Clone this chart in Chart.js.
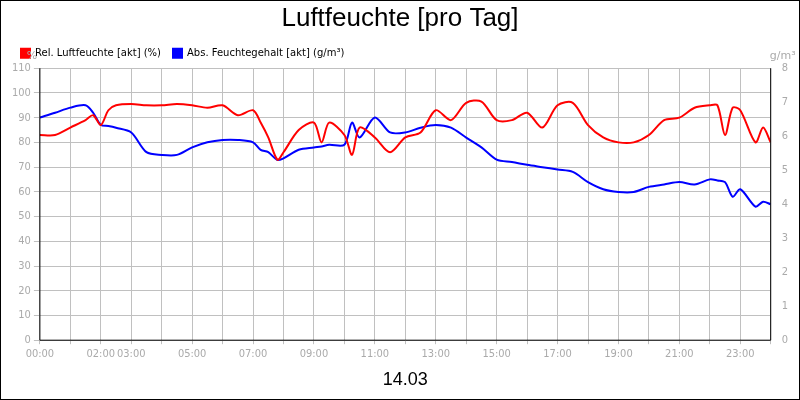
<!DOCTYPE html>
<html lang="de">
<head>
<meta charset="UTF-8">
<title>Luftfeuchte</title>
<style>
  body { margin: 0; background: #fff; }
  #wrap { width: 800px; height: 400px; box-sizing: border-box; border: 1px solid #000; }
</style>
</head>
<body>
<div id="wrap"><canvas id="chart" width="798" height="398"></canvas></div>
<script src="https://cdn.jsdelivr.net/npm/chart.js"></script>
<script>
// time of day in hours
const hours = [0,0.5,1,1.5,1.75,2,2.25,2.5,3,3.5,4,4.5,5,5.5,6,6.5,7,7.25,7.5,7.8,8,8.5,9,9.25,9.5,10,10.25,10.5,11,11.5,12,12.5,13,13.5,14,14.5,15,15.5,16,16.5,17,17.5,18,18.5,19,19.5,20,20.5,21,21.5,22,22.25,22.5,22.75,23,23.5,23.75,24];
// Rel. Luftfeuchte (%)
const rh = [83,83,86,89,91,87,93,95,95.5,95,95,95.5,95,94,95,91,93,88,82,73,76,85,88,80,88,83,75,86,82,76,82,84,93,89,96,96.5,89,89,92,86,95,96,87,82,80,80,83,89,90,94,95,95,83,94,93,80,86,80];
// Abs. Feuchtegehalt (g/m³)
const ah = [6.55,6.69,6.84,6.91,6.69,6.33,6.3,6.25,6.11,5.53,5.45,5.45,5.67,5.82,5.89,5.89,5.82,5.6,5.53,5.3,5.35,5.6,5.67,5.7,5.75,5.75,6.4,5.96,6.55,6.11,6.11,6.25,6.33,6.25,5.96,5.67,5.31,5.24,5.16,5.09,5.02,4.95,4.65,4.44,4.36,4.36,4.51,4.58,4.65,4.58,4.73,4.7,4.65,4.22,4.44,3.93,4.07,4.0];
const xLabels = {0:'00:00',2:'02:00',3:'03:00',5:'05:00',7:'07:00',9:'09:00',11:'11:00',13:'13:00',15:'15:00',17:'17:00',19:'19:00',21:'21:00',23:'23:00'};

const grey = '#aaaaaa';
const unitTitles = {
  id: 'unitTitles',
  afterDraw(chart) {
    const c = chart.ctx, a = chart.chartArea;
    c.save();
    c.fillStyle = grey;
    c.font = '11px "DejaVu Sans", sans-serif';
    c.textAlign = 'center';
    c.fillText('%', a.left - 8, a.top - 12);
    c.fillText('g/m³', a.right + 12, a.top - 12);
    c.strokeStyle = '#000';
    c.lineWidth = 1;
    c.beginPath();
    c.moveTo(a.left, a.top); c.lineTo(a.left, a.bottom); c.lineTo(a.right, a.bottom); c.lineTo(a.right, a.top);
    c.stroke();
    c.restore();
  }
};

new Chart(document.getElementById('chart'), {
  type: 'line',
  data: {
    datasets: [
      { label: 'Rel. Luftfeuchte [akt] (%)', data: hours.map((h, i) => ({ x: h, y: rh[i] })),
        borderColor: '#ff0000', backgroundColor: '#ff0000', borderWidth: 2, pointRadius: 0, tension: 0.3, yAxisID: 'y' },
      { label: 'Abs. Feuchtegehalt [akt] (g/m³)', data: hours.map((h, i) => ({ x: h, y: ah[i] })),
        borderColor: '#0000ff', backgroundColor: '#0000ff', borderWidth: 2, pointRadius: 0, tension: 0.3, yAxisID: 'y2' }
    ]
  },
  options: {
    responsive: false, animation: false,
    layout: { padding: { left: 8, right: 8, top: 0, bottom: 0 } },
    plugins: {
      title: { display: true, text: 'Luftfeuchte [pro Tag]', color: '#000', font: { size: 26, family: 'Liberation Sans', weight: 'normal' }, padding: { top: 2, bottom: 2 } },
      legend: { align: 'start', labels: { boxWidth: 9, boxHeight: 9, color: '#000', font: { size: 10, family: 'DejaVu Sans' }, padding: 12 } },
      tooltip: { enabled: false }
    },
    scales: {
      x: { type: 'linear', min: 0, max: 24,
        grid: { color: '#c0c0c0', tickLength: 4 }, border: { display: false },
        ticks: { stepSize: 1, autoSkip: false, maxRotation: 0, color: grey, font: { size: 11, family: 'DejaVu Sans Condensed' }, callback: v => xLabels[v] || '' },
        title: { display: true, text: '14.03', color: '#000', font: { size: 18, family: 'Liberation Sans' }, padding: { top: 6, bottom: 8 } } },
      y: { position: 'left', min: 0, max: 110,
        grid: { color: '#c0c0c0', tickLength: 6 }, border: { display: false },
        ticks: { stepSize: 10, color: grey, font: { size: 11, family: 'DejaVu Sans Condensed' } } },
      y2: { position: 'right', min: 0, max: 8,
        grid: { display: false }, border: { display: false },
        ticks: { stepSize: 1, color: grey, font: { size: 11, family: 'DejaVu Sans Condensed' } } }
    }
  },
  plugins: [unitTitles]
});
</script>
</body>
</html>
